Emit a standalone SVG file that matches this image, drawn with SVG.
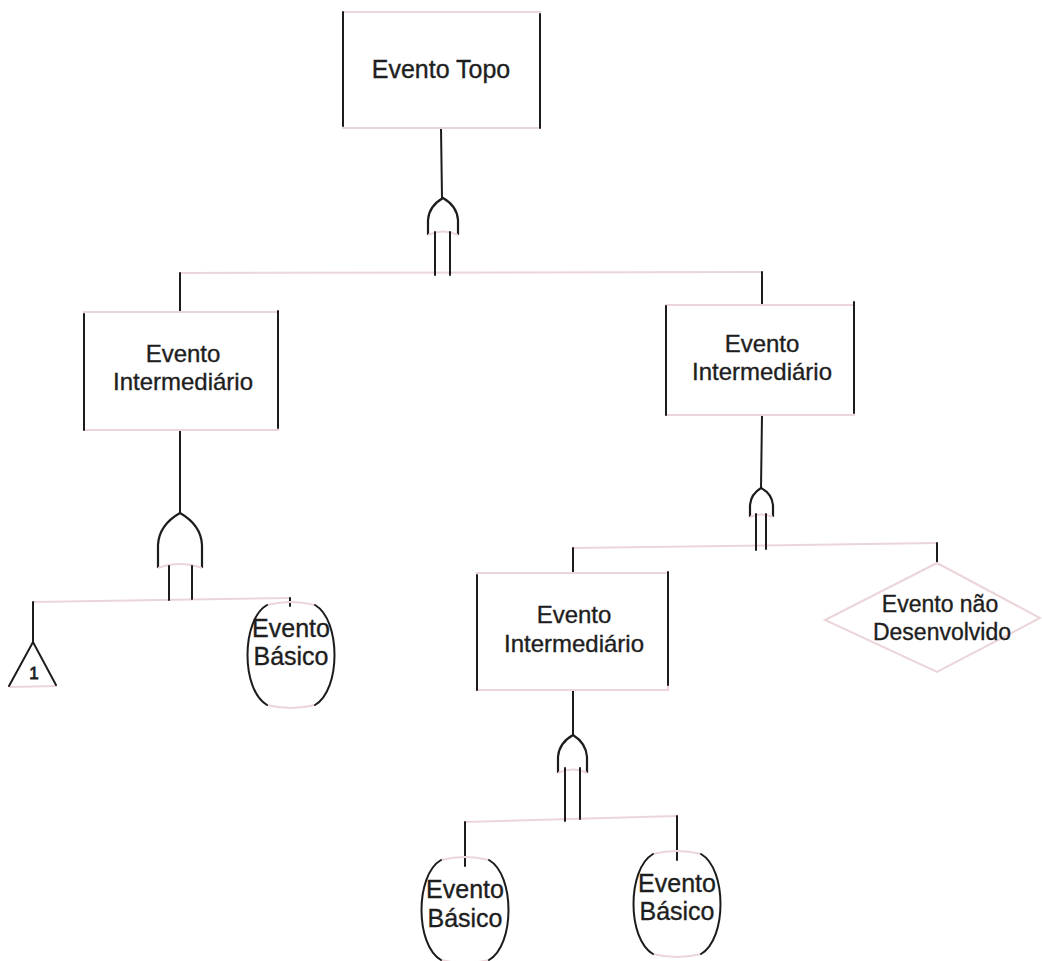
<svg xmlns="http://www.w3.org/2000/svg" width="1042" height="961" viewBox="0 0 1042 961">
  <style>
    .ink { stroke: #1c1c1c; stroke-width: 2; fill: none; stroke-linecap: round; }
    .faint { stroke: #ecd5d9; stroke-width: 2; fill: none; }
    .lbl { font-family: "Liberation Sans", Arial, sans-serif; font-size: 24px; fill: #1e1e1e; stroke: #1e1e1e; stroke-width: 0.35; text-anchor: middle; }
    .big { font-size: 25px; }
    .gate { stroke: #1c1c1c; stroke-width: 2.2; fill: #ffffff; }
  </style>
  <defs>
    <!-- basic event outline: dark curved flanks, faint top and bottom -->
    <g id="basic-shape">
      <path class="faint" d="M -24 -50 Q 0 -56 24 -50 M -24 50 Q 0 56 24 50"/>
      <path class="ink" d="M -24 -50 C -50 -35 -50 35 -24 50 M 24 -50 C 50 -35 50 35 24 50"/>
    </g>
  </defs>
  <rect width="1042" height="961" fill="#ffffff"/>

  <!-- connectors -->
  <g id="connectors">
    <g class="faint">
      <line x1="180" y1="273" x2="762" y2="272"/>
      <line x1="33" y1="602" x2="290" y2="598"/>
      <line x1="573" y1="548" x2="937" y2="543"/>
      <line x1="465" y1="822" x2="677" y2="816"/>
    </g>
    <g class="ink">
      <line x1="441" y1="128" x2="442" y2="198"/>
      <line x1="180" y1="273" x2="180" y2="312"/>
      <line x1="762" y1="272" x2="762" y2="305"/>
      <line x1="180" y1="430" x2="180" y2="513"/>
      <line x1="762" y1="415" x2="761" y2="488"/>
      <line x1="33" y1="602" x2="33" y2="642"/>
      <line x1="290" y1="598" x2="290" y2="606"/>
      <line x1="573" y1="548" x2="573" y2="573"/>
      <line x1="937" y1="543" x2="937" y2="563"/>
      <line x1="573" y1="690" x2="573" y2="735"/>
      <line x1="465" y1="822" x2="465" y2="866"/>
      <line x1="677" y1="816" x2="677" y2="860"/>
    </g>
  </g>

  <!-- top event -->
  <g id="top-event">
    <rect x="343" y="12" width="197" height="116" class="faint"/>
    <line x1="343" y1="12" x2="343" y2="126" class="ink"/>
    <line x1="540" y1="14" x2="540" y2="128" class="ink"/>
    <text class="lbl big" x="441" y="78">Evento Topo</text>
  </g>

  <!-- OR gate under the top event -->
  <g id="gate-top">
    <path class="gate" d="M 428 235 L 428 220 Q 429 206 443 198 Q 457 206 458 220 L 458 235"/>
    <path class="faint" d="M 428 235 Q 443 228 458 235"/>
    <line x1="435" y1="232" x2="435" y2="275" class="ink"/>
    <line x1="450" y1="232" x2="450" y2="275" class="ink"/>
  </g>

  <!-- left intermediate event -->
  <g id="inter-left">
    <rect x="84" y="312" width="194" height="118" class="faint"/>
    <line x1="84" y1="314" x2="84" y2="430" class="ink"/>
    <line x1="278" y1="311" x2="278" y2="428" class="ink"/>
    <text class="lbl" x="183" y="362">Evento</text>
    <text class="lbl" x="183" y="390">Intermediário</text>
  </g>

  <!-- right intermediate event -->
  <g id="inter-right">
    <rect x="666" y="305" width="188" height="110" class="faint"/>
    <line x1="666" y1="306" x2="666" y2="415" class="ink"/>
    <line x1="854" y1="302" x2="854" y2="413" class="ink"/>
    <text class="lbl" x="762" y="352">Evento</text>
    <text class="lbl" x="762" y="380">Intermediário</text>
  </g>

  <!-- OR gate under the left intermediate event -->
  <g id="gate-left">
    <path class="gate" d="M 158 568 L 158 545 Q 159 525 180 513 Q 201 525 202 545 L 202 568"/>
    <path class="faint" d="M 158 568 Q 180 560 202 568"/>
    <line x1="169" y1="566" x2="169" y2="600" class="ink"/>
    <line x1="192" y1="566" x2="192" y2="599" class="ink"/>
  </g>

  <!-- transfer symbol -->
  <g id="transfer-1">
    <path class="faint" d="M 9 687 L 57 686"/>
    <path class="ink" d="M 9 686 L 33 642 L 56 685"/>
    <text class="lbl" x="34" y="679" style="font-size:17px;stroke-width:0.8">1</text>
  </g>

  <!-- basic event, left branch -->
  <g id="basic-left" transform="translate(291 655)">
    <use href="#basic-shape"/>
    <text class="lbl big" x="0" y="-18">Evento</text>
    <text class="lbl big" x="0" y="10">Básico</text>
  </g>

  <!-- OR gate under the right intermediate event -->
  <g id="gate-right">
    <path class="gate" d="M 750 517 L 750 505 Q 751 494 761 488 Q 772 494 773 505 L 773 517"/>
    <path class="faint" d="M 750 517 Q 761 512 773 517"/>
    <line x1="756" y1="514" x2="756" y2="550" class="ink"/>
    <line x1="766" y1="514" x2="766" y2="549" class="ink"/>
  </g>

  <!-- middle intermediate event -->
  <g id="inter-middle">
    <rect x="477" y="573" width="191" height="117" class="faint"/>
    <line x1="477" y1="575" x2="477" y2="690" class="ink"/>
    <line x1="668" y1="572" x2="668" y2="685" class="ink"/>
    <text class="lbl" x="574" y="623">Evento</text>
    <text class="lbl" x="574" y="652">Intermediário</text>
  </g>

  <!-- undeveloped event -->
  <g id="undeveloped">
    <path class="faint" d="M 937 563 L 1040 618 L 937 672 L 825 620 Z"/>
    <text class="lbl" x="940" y="612" style="font-size:23px">Evento não</text>
    <text class="lbl" x="942" y="640" style="font-size:23px">Desenvolvido</text>
  </g>

  <!-- OR gate under the middle intermediate event -->
  <g id="gate-middle">
    <path class="gate" d="M 558 773 L 558 757 Q 559 743 573 735 Q 586 743 587 757 L 587 773"/>
    <path class="faint" d="M 558 773 Q 573 766 587 773"/>
    <line x1="565" y1="768" x2="565" y2="821" class="ink"/>
    <line x1="580" y1="768" x2="580" y2="819" class="ink"/>
  </g>

  <!-- basic events, bottom row -->
  <g id="basic-bottom-left" transform="translate(465 910)">
    <use href="#basic-shape"/>
    <text class="lbl big" x="0" y="-12">Evento</text>
    <text class="lbl big" x="0" y="17">Básico</text>
  </g>
  <g id="basic-bottom-right" transform="translate(677 904)">
    <use href="#basic-shape"/>
    <text class="lbl big" x="0" y="-12">Evento</text>
    <text class="lbl big" x="0" y="16">Básico</text>
  </g>
</svg>
